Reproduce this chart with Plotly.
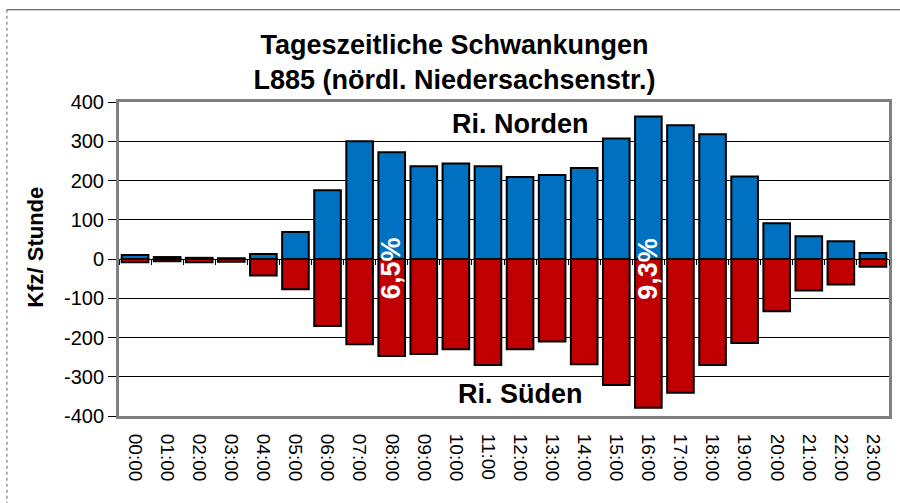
import plotly.graph_objects as go

hours = [f"{h:02d}:00" for h in range(24)]
nord = [10, 5, 3, 2, 13, 69, 175, 300, 272, 236, 243, 236, 209, 214, 232, 307, 363, 341, 318, 210, 91, 58, 45, 15]
sued = [-8, -6, -8, -7, -42, -77, -171, -217, -247, -242, -230, -270, -230, -210, -268, -321, -379, -341, -270, -214, -133, -80, -65, -20]
y_ticks = [400, 300, 200, 100, 0, -100, -200, -300, -400]
share_labels = [("08:00", "6,5%"), ("16:00", "9,3%")]

FONT = "Liberation Sans, Arial, sans-serif"

fig = go.Figure()
fig.add_trace(go.Bar(x=hours, y=nord, name="Ri. Norden",
                     marker=dict(color="#0070C0", line=dict(color="black", width=2))))
fig.add_trace(go.Bar(x=hours, y=sued, name="Ri. Süden",
                     marker=dict(color="#C00000", line=dict(color="black", width=2))))
# invisible trace to carry the zero-line category axis with boundary ticks
fig.add_trace(go.Scatter(x=hours, y=[0] * len(hours), xaxis="x2", mode="none",
                         showlegend=False, hoverinfo="skip"))

fig.update_layout(
    width=900, height=503,
    margin=dict(l=119, r=8, t=102, b=87),
    paper_bgcolor="white", plot_bgcolor="white",
    barmode="relative", bargap=0.17,
    showlegend=False,
    font=dict(family=FONT, color="black"),
    title=dict(text="<b>Tageszeitliche Schwankungen<br>L885 (nördl. Niedersachsenstr.)</b>",
               x=0.505, xanchor="center", xref="container",
               y=(503 - 54) / 503, yanchor="top", yref="container",
               font=dict(size=27, family=FONT, color="black")),
    xaxis=dict(type="category", categoryorder="array", categoryarray=hours,
               tickangle=90, ticks="", tickfont=dict(size=19, family=FONT),
               ticklabelstandoff=11,
               showline=True, mirror=True, linecolor="#808080", linewidth=3,
               showgrid=False, zeroline=False),
    xaxis2=dict(type="category", categoryorder="array", categoryarray=hours,
                overlaying="x", anchor="free", position=0.5, side="bottom",
                matches="x",
                showticklabels=False, ticks="outside", ticklen=5, tickwidth=1,
                tickcolor="black", tickson="boundaries",
                showline=True, linecolor="black", linewidth=1,
                showgrid=False, zeroline=False),
    yaxis=dict(range=[-400, 400], tickvals=y_ticks, ticktext=[str(v) for v in y_ticks],
               tickfont=dict(size=20, family=FONT),
               ticks="outside", ticklen=8, tickcolor="black", tickwidth=1,
               showline=True, mirror=True, linecolor="#808080", linewidth=3,
               showgrid=True, gridcolor="black", gridwidth=1, zeroline=False),
)

annotations = [
    dict(text="<b>Kfz/ Stunde</b>", xref="paper", yref="paper",
         x=(35 - 119) / 773, y=(415.5 - 247) / 313.8, textangle=-90,
         xanchor="center", yanchor="middle",
         showarrow=False, font=dict(size=22, family=FONT, color="black")),
    dict(text="<b>Ri. Norden</b>", xref="x", yref="y", x="12:00", y=345,
         showarrow=False, xshift=0, font=dict(size=27, family=FONT, color="black")),
    dict(text="<b>Ri. Süden</b>", xref="x", yref="y", x="12:00", y=-345,
         showarrow=False, xshift=0, font=dict(size=27, family=FONT, color="black")),
]
for cat, txt in share_labels:
    annotations.append(dict(text=f"<b>{txt}</b>", xref="x", yref="y", x=cat, y=-24,
                            textangle=-90, showarrow=False,
                            font=dict(size=27, family=FONT, color="white")))
fig.update_layout(annotations=annotations)

# outer chart frame
fig.add_shape(type="line", xref="paper", yref="paper",
              x0=(6.5 - 119) / 773, x1=(905 - 119) / 773,
              y0=(415.5 - 9.5) / 313.8, y1=(415.5 - 9.5) / 313.8,
              line=dict(color="#404040", width=1))
fig.add_shape(type="line", xref="paper", yref="paper",
              x0=(6.5 - 119) / 773, x1=(6.5 - 119) / 773,
              y0=(415.5 - 9.5) / 313.8, y1=(415.5 - 510) / 313.8,
              line=dict(color="#606060", width=1, dash="dot"))

fig.write_html("out.html",
               config={"displayModeBar": False},
               post_script="document.body.style.margin='0';document.body.style.overflow='hidden';")
